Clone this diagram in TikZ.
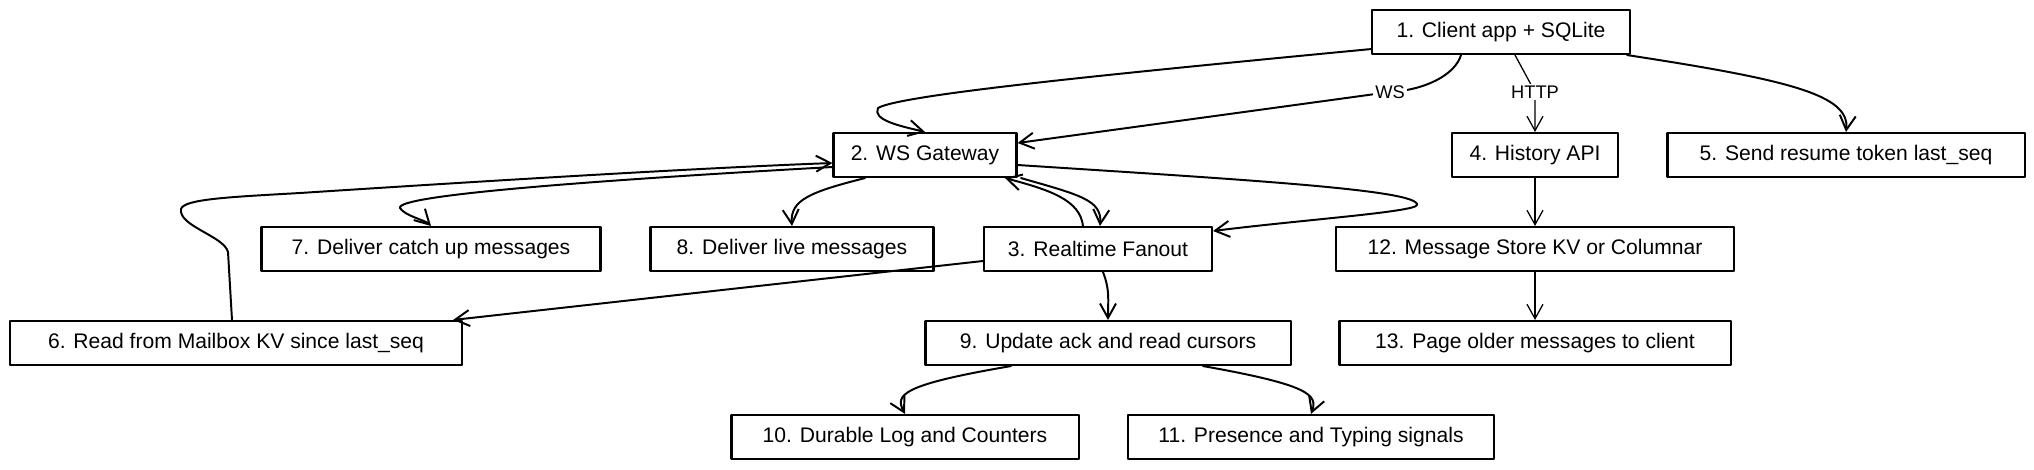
\documentclass[tikz,border=0pt]{standalone}
\usepackage{fontspec}
\setmainfont{Liberation Sans}
\usetikzlibrary{arrows.meta}

\begin{document}
\begin{tikzpicture}[x=0.025cm, y=-0.025cm, line cap=round, line join=round,
    stage/.style={draw, line width=1.5pt, minimum height=1.1cm, inner sep=0pt, font=\fontsize{15}{18}\selectfont},
    flow/.style={line width=1.4pt, -{Straight Barb[length=0.36cm, width=0.4cm]}},
    thinflow/.style={flow, line width=0.9pt},
    tag/.style={fill=white, inner sep=1.5pt, font=\fontsize{13}{15}\selectfont}]
    \useasboundingbox (0, 0) rectangle (2034, 469);

    % boxes
    \node[stage, minimum width=6.45cm] (client) at (1501, 32) {1. Client app + SQLite};
    \node[stage, minimum width=4.575cm] (gate) at (925, 155) {2. WS Gateway};
    \node[stage, minimum width=4.15cm] (hist) at (1535, 155) {4. History API};
    \node[stage, minimum width=8.925cm] (resume) at (1846, 155) {5. Send resume token last\_seq};
    \node[stage, minimum width=8.475cm] (catchup) at (431, 249) {7. Deliver catch up messages};
    \node[stage, minimum width=7.075cm] (live) at (792, 249) {8. Deliver live messages};
    \node[stage, minimum width=5.7cm] (fanout) at (1098, 249) {3. Realtime Fanout};
    \node[stage, minimum width=9.95cm] (store) at (1535, 249) {12. Message Store KV or Columnar};
    \node[stage, minimum width=11.3cm] (mailbox) at (236, 343) {6. Read from Mailbox KV since last\_seq};
    \node[stage, minimum width=9.125cm] (cursors) at (1108, 343) {9. Update ack and read cursors};
    \node[stage, minimum width=9.775cm] (page) at (1535, 343) {13. Page older messages to client};
    \node[stage, minimum width=8.675cm] (durable) at (905, 437) {10. Durable Log and Counters};
    \node[stage, minimum width=9.15cm] (presence) at (1311, 437) {11. Presence and Typing signals};

    % client links
    \draw[flow] ([yshift=0.15cm]client.south west) .. controls (1100, 75) and (900, 95) .. (878, 108) .. controls (872, 120) and (900, 126) .. (gate.north);
    \draw[flow] ([xshift=-1cm]client.south) .. controls (1455, 75) and (1425, 90) .. (1390, 92) node[tag] (ws) {WS} -- ([yshift=0.3cm]gate.east);
    \draw[thinflow] ([xshift=0.35cm]client.south) -- (1535, 92) node[tag] (http) {HTTP} -- (hist.north);
    \draw[flow] ([xshift=-0.1cm]client.south east) .. controls (1790, 80) and (1850, 95) .. (resume.north);

    % history path
    \draw[thinflow] (hist.south) -- (store.north);
    \draw[thinflow] (store.south) -- (page.north);

    % gateway and fanout
    \draw[flow] ([xshift=-0.1cm]mailbox.north) -- (228, 252) .. controls (224, 236) and (178, 226) .. (181, 209) .. controls (184, 199) and (230, 197) .. (300, 193) .. controls (500, 180) and (700, 168) .. ([yshift=-0.2cm]gate.west);
    \draw[flow] ([yshift=-0.3cm]gate.west) .. controls (600, 180) and (395, 195) .. (400, 208) .. controls (405, 216) and (425, 220) .. (catchup.north);
    \draw[flow] ([xshift=-1.5cm]gate.south) .. controls (810, 192) and (790, 200) .. (live.north);
    \draw[flow] ([xshift=-0.375cm]fanout.north) .. controls (1080, 200) and (1050, 190) .. ([xshift=2cm]gate.south);
    \draw[flow] ([xshift=2.4cm]gate.south) .. controls (1080, 195) and (1102, 200) .. ([xshift=0.05cm]fanout.north);
    \draw[flow] ([yshift=-0.25cm]gate.east) .. controls (1250, 180) and (1420, 190) .. (1417, 205) .. controls (1415, 212) and (1300, 220) .. ([yshift=0.45cm]fanout.east);
    \draw[flow] ([yshift=-0.3cm]fanout.west) -- ([xshift=-0.25cm]mailbox.north east);
    \draw[flow] ([xshift=0.125cm]fanout.south) .. controls (1110, 290) and (1108, 300) .. (cursors.north);

    % cursor updates
    \draw[flow] ([xshift=-2.425cm]cursors.south) .. controls (900, 385) and (895, 395) .. (durable.north);
    \draw[flow] ([xshift=2.375cm]cursors.south) .. controls (1310, 385) and (1318, 395) .. (presence.north);
\end{tikzpicture}
\end{document}
